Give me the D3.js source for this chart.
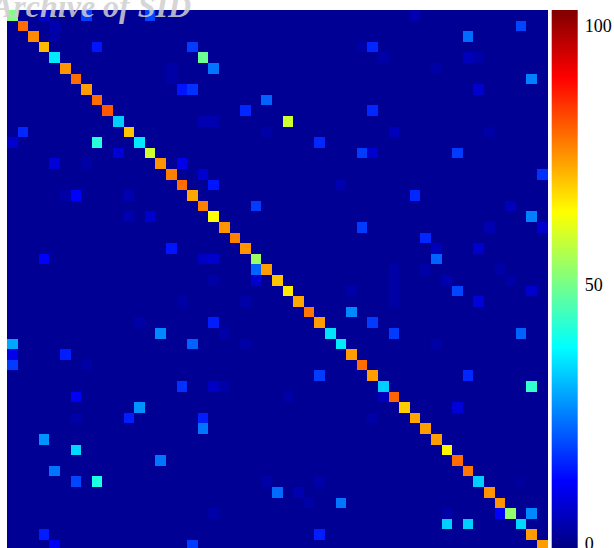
<!DOCTYPE html>
<html>
<head>
<meta charset="utf-8">
<script src="https://cdn.jsdelivr.net/npm/d3@7/dist/d3.min.js"></script>
<style>
  body { margin: 0; background: #fff; }
  svg { display: block; }
</style>
</head>
<body>
<div id="chart"></div>
<script>
// ---- data ----
const nCells = 51;
const background = 1;

// diagonal values, row 0 .. 50
const diagonal = [51, 79, 76, 71, 36, 75, 79, 74, 79, 81, 33, 70, 36, 59, 75, 77, 79,
                  73, 77, 64, 75, 77, 75, 54, 74,
                  70, 66, 73, 78, 74, 35, 36, 74, 79,
                  74, 33, 80, 69, 73, 74, 74, 65, 79, 78, 33, 75, 75, 53, 34, 74, 74];

// off diagonal cells: [row, col, value]
const offDiagonal = [
  [0, 3, 7], [0, 7, 18], [0, 13, 19], [1, 4, 4], [2, 4, 3], [3, 8, 14], [5, 15, 3], [6, 15, 3],
  [7, 16, 14], [11, 1, 16], [12, 0, 7], [12, 8, 42], [13, 10, 8], [14, 4, 8], [14, 7, 3],
  [14, 16, 10], [17, 5, 3], [17, 6, 12], [17, 11, 4], [19, 11, 4], [19, 13, 7], [22, 15, 14],
  [23, 3, 12],
  [3, 17, 18], [3, 33, 3], [4, 18, 49], [5, 19, 24], [7, 17, 17], [8, 24, 22], [9, 22, 16],
  [10, 18, 4], [10, 19, 4], [10, 26, 59], [11, 24, 3], [12, 29, 16], [13, 33, 18], [15, 18, 7],
  [16, 19, 14], [16, 31, 4], [18, 23, 18], [20, 33, 18], [23, 18, 6], [23, 19, 7], [24, 23, 22],
  [0, 38, 4], [1, 48, 19], [2, 43, 23], [3, 34, 16], [4, 35, 3], [4, 43, 5], [4, 44, 3],
  [5, 40, 3], [6, 49, 25], [7, 44, 7], [9, 34, 16], [11, 36, 5], [11, 45, 3], [13, 34, 7],
  [13, 42, 18], [15, 50, 17], [17, 38, 16], [18, 47, 5], [19, 49, 25], [20, 45, 4], [20, 50, 7],
  [21, 39, 16], [22, 40, 5], [22, 44, 7], [23, 40, 22], [24, 39, 3], [24, 46, 3], [24, 36, 3],
  [27, 16, 3], [29, 12, 3], [30, 14, 26], [31, 0, 29], [32, 0, 10], [33, 0, 18], [32, 5, 15],
  [33, 7, 3], [35, 16, 17], [36, 6, 11], [37, 12, 27], [38, 11, 15], [38, 6, 3], [40, 3, 27],
  [41, 6, 34], [42, 14, 24], [43, 4, 24], [44, 6, 19], [44, 8, 41], [49, 3, 15], [50, 4, 11],
  [25, 19, 3], [25, 23, 7], [26, 32, 3], [27, 22, 3], [28, 32, 26], [29, 19, 15], [30, 20, 3],
  [31, 17, 22], [31, 22, 3], [34, 29, 18], [35, 19, 6], [35, 20, 3], [36, 26, 3], [38, 18, 15],
  [39, 18, 24], [44, 24, 3], [45, 25, 23], [45, 27, 4], [44, 29, 3], [46, 28, 3], [46, 31, 24],
  [47, 19, 3], [49, 29, 15], [50, 17, 18],
  [25, 41, 4], [25, 36, 3], [26, 36, 3], [27, 36, 3], [25, 47, 3], [26, 42, 19], [27, 44, 8],
  [26, 49, 7], [29, 34, 18], [30, 36, 18], [30, 48, 22], [31, 40, 3], [34, 43, 16], [35, 49, 43],
  [37, 42, 8], [38, 34, 3], [36, 35, 5], [44, 48, 2], [47, 41, 3], [47, 46, 12], [47, 49, 26],
  [48, 41, 33], [48, 43, 33]
];

const colorLimits = [-1, 103];
const colorTicks = [0, 50, 100];

// build the matrix
const cells = [];
const lookup = new Map(offDiagonal.map(d => [d[0] + "," + d[1], d[2]]));
for (let r = 0; r < nCells; r++) {
  for (let c = 0; c < nCells; c++) {
    let v = background;
    if (r === c) v = diagonal[r];
    else if (lookup.has(r + "," + c)) v = lookup.get(r + "," + c);
    cells.push({ row: r, col: c, value: v });
  }
}

// ---- layout ----
const W = 614, H = 548;
const plot = { left: 7, top: 10, size: 540.6 };
const bar = { left: 551.7, width: 26, top: 10, bottom: 549 };

const svg = d3.select("#chart").append("svg")
  .attr("width", W)
  .attr("height", H);

// jet colormap
const jetStops = [0, 0.125, 0.375, 0.625, 0.875, 1];
const jetColors = ["#000080", "#0000ff", "#00ffff", "#ffff00", "#ff0000", "#800000"];
const jet = d3.scaleLinear().domain(jetStops).range(jetColors).clamp(true);
const norm = d3.scaleLinear().domain(colorLimits).range([0, 1]).clamp(true);
const color = v => jet(norm(v));

const x = d3.scaleBand().domain(d3.range(nCells)).range([plot.left, plot.left + plot.size]);
const y = d3.scaleBand().domain(d3.range(nCells)).range([plot.top, plot.top + plot.size]);

// =========================
// HEATMAP
// =========================
svg.append("g")
  .selectAll("rect")
  .data(cells)
  .join("rect")
  .attr("x", d => x(d.col))
  .attr("y", d => y(d.row))
  .attr("width", x.bandwidth() + 0.3)
  .attr("height", y.bandwidth() + 0.3)
  .attr("fill", d => color(d.value))
  .attr("shape-rendering", "crispEdges");

// =========================
// COLORBAR
// =========================
const defs = svg.append("defs");
const grad = defs.append("linearGradient")
  .attr("id", "jet-grad")
  .attr("x1", 0).attr("y1", 1).attr("x2", 0).attr("y2", 0);

grad.selectAll("stop")
  .data(jetStops)
  .join("stop")
  .attr("offset", d => `${d * 100}%`)
  .attr("stop-color", (d, i) => jetColors[i]);

svg.append("rect")
  .attr("x", bar.left)
  .attr("y", bar.top)
  .attr("width", bar.width)
  .attr("height", bar.bottom - bar.top)
  .attr("fill", "url(#jet-grad)");

const cScale = d3.scaleLinear().domain(colorLimits).range([bar.bottom, bar.top]);

svg.append("g")
  .selectAll("text")
  .data(colorTicks)
  .join("text")
  .attr("x", bar.left + bar.width + 7)
  .attr("y", d => cScale(d))
  .attr("dy", "0.35em")
  .style("font-family", "'Liberation Serif', 'Times New Roman', serif")
  .style("font-size", "18px")
  .style("fill", "#000")
  .text(d => d);

// =========================
// WATERMARK
// =========================
svg.append("text")
  .attr("x", -8)
  .attr("y", 17)
  .style("font-family", "'Liberation Serif', 'Times New Roman', serif")
  .style("font-style", "italic")
  .style("font-weight", "bold")
  .style("font-size", "32px")
  .style("fill", "#d0d0d0")
  .style("opacity", 0.85)
  .text("Archive of SID");
</script>
</body>
</html>
